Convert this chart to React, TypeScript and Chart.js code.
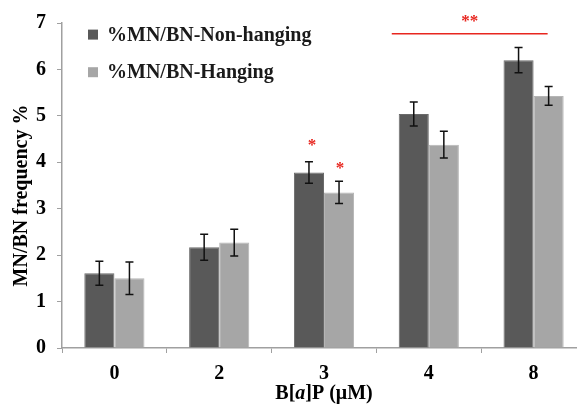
import React, { useEffect, useRef } from "react";
import { Chart, registerables } from "chart.js";
Chart.register(...registerables);

const categories = ["0", "2", "3", "4", "8"];
const nonHanging = [1.61, 2.17, 3.78, 5.04, 6.2];
const nonHangingErr = [0.26, 0.28, 0.23, 0.26, 0.27];
const hanging = [1.5, 2.27, 3.35, 4.38, 5.43];
const hangingErr = [0.35, 0.29, 0.24, 0.29, 0.2];
const seriesNames = ["%MN/BN-Non-hanging", "%MN/BN-Hanging"];
const yTicks = [0, 1, 2, 3, 4, 5, 6, 7];
const yTitle = "MN/BN frequency %";

const DARK = "#595959";
const LIGHT = "#a6a6a6";
const AXIS = "#a0a0a0";
const FONT = "'Liberation Serif', 'Times New Roman', serif";

const extrasPlugin = {
  id: "extras",
  afterDatasetsDraw(chart: any) {
    const ctx = chart.ctx;
    const y = chart.scales.y;
    const errs = [nonHangingErr, hangingErr];
    const vals = [nonHanging, hanging];
    ctx.save();
    // error bars
    ctx.strokeStyle = "#111";
    ctx.lineWidth = 1.5;
    [0, 1].forEach((di) => {
      const meta = chart.getDatasetMeta(di);
      meta.data.forEach((bar: any, i: number) => {
        const v = vals[di][i];
        const e = errs[di][i];
        const x = bar.x;
        const yt = y.getPixelForValue(v + e);
        const yb = y.getPixelForValue(v - e);
        ctx.beginPath();
        ctx.moveTo(x, yt);
        ctx.lineTo(x, yb);
        ctx.moveTo(x - 4, yt);
        ctx.lineTo(x + 4, yt);
        ctx.moveTo(x - 4, yb);
        ctx.lineTo(x + 4, yb);
        ctx.stroke();
      });
    });
    // significance marks
    ctx.fillStyle = "#e8261f";
    ctx.font = `bold 17px ${FONT}`;
    ctx.textAlign = "center";
    ctx.textBaseline = "middle";
    const m0 = chart.getDatasetMeta(0).data;
    const m1 = chart.getDatasetMeta(1).data;
    ctx.fillText("*", m0[2].x + 3, y.getPixelForValue(nonHanging[2] + nonHangingErr[2]) - 16);
    ctx.fillText("*", m1[2].x + 1, y.getPixelForValue(hanging[2] + hangingErr[2]) - 13);
    const lx1 = m0[3].x - 22;
    const lx2 = m1[4].x - 1;
    const ly = y.getPixelForValue(6.77);
    ctx.strokeStyle = "#e8261f";
    ctx.lineWidth = 1.5;
    ctx.beginPath();
    ctx.moveTo(lx1, ly);
    ctx.lineTo(lx2, ly);
    ctx.stroke();
    ctx.fillText("**", (lx1 + lx2) / 2, ly - 12);
    // legend
    ctx.font = `bold 20px ${FONT}`;
    ctx.textAlign = "left";
    [DARK, LIGHT].forEach((c, i) => {
      const cy = y.getPixelForValue(6.75 - i * 0.81);
      ctx.fillStyle = c;
      ctx.fillRect(88, cy - 5, 10, 10);
      ctx.fillStyle = "#1a1a1a";
      ctx.fillText(seriesNames[i], 107, cy + 1);
    });
    // y title
    ctx.save();
    ctx.translate(22, (y.top + y.bottom) / 2 + 10);
    ctx.rotate(-Math.PI / 2);
    ctx.textAlign = "center";
    ctx.fillStyle = "#000";
    ctx.font = `bold 20px ${FONT}`;
    ctx.fillText(yTitle, 0, 0);
    ctx.restore();
    // x title with italic a
    const xs = chart.scales.x;
    const cx = (xs.left + xs.right) / 2;
    const ty = 394;
    const parts: [string, string][] = [
      ["B[", `bold 20px ${FONT}`],
      ["a", `italic bold 20px ${FONT}`],
      ["]P (μM)", `bold 20px ${FONT}`],
    ];
    let total = 0;
    parts.forEach(([t, f]) => {
      ctx.font = f;
      total += ctx.measureText(t).width;
    });
    let px = cx - total / 2;
    ctx.fillStyle = "#000";
    ctx.textBaseline = "middle";
    ctx.textAlign = "left";
    parts.forEach(([t, f]) => {
      ctx.font = f;
      ctx.fillText(t, px, ty);
      px += ctx.measureText(t).width;
    });
    ctx.restore();
  },
};

export default function App() {
  const ref = useRef<HTMLCanvasElement>(null);
  useEffect(() => {
    if (!ref.current) return;
    const chart = new Chart(ref.current, {
      type: "bar",
      data: {
        labels: categories,
        datasets: [
          {
            label: seriesNames[0],
            data: nonHanging,
            backgroundColor: DARK,
            borderColor: "#6a6a6a",
            borderWidth: 1,
            categoryPercentage: 0.574,
            barPercentage: 1,
          },
          {
            label: seriesNames[1],
            data: hanging,
            backgroundColor: LIGHT,
            borderColor: "#b5b5b5",
            borderWidth: 1,
            categoryPercentage: 0.574,
            barPercentage: 1,
          },
        ],
      },
      options: {
        animation: false,
        responsive: false,
        devicePixelRatio: 1,
        layout: { padding: { top: 22, right: 6, left: 0, bottom: 0 } },
        plugins: {
          legend: { display: false },
          tooltip: { enabled: false },
          title: { display: false },
        },
        scales: {
          x: {
            grid: {
              display: true,
              drawOnChartArea: false,
              drawTicks: true,
              tickLength: 5,
              color: AXIS,
              lineWidth: 1,
            },
            border: { display: true, color: AXIS, width: 1.5 },
            ticks: {
              color: "#000",
              font: { family: FONT, size: 20, weight: "bold" },
              padding: 9,
            },
            afterFit(scale: any) {
              scale.height = 60;
            },
          },
          y: {
            min: 0,
            max: 7,
            afterBuildTicks(scale: any) {
              scale.ticks = yTicks.map((v) => ({ value: v }));
            },
            grid: {
              display: true,
              drawOnChartArea: false,
              drawTicks: true,
              tickLength: 5,
              color: AXIS,
            },
            border: { display: true, color: AXIS, width: 1.5 },
            ticks: {
              color: "#000",
              font: { family: FONT, size: 20, weight: "bold" },
              padding: 11,
            },
            afterFit(scale: any) {
              scale.width = 62;
            },
          },
        },
      },
      plugins: [extrasPlugin],
    });
    return () => chart.destroy();
  }, []);
  return (
    <div
      style={{
        position: "fixed",
        left: 0,
        top: 0,
        width: 577,
        height: 408,
        overflow: "hidden",
        background: "#fff",
      }}
    >
      <canvas ref={ref} width={592} height={408} style={{ display: "block" }} />
    </div>
  );
}
